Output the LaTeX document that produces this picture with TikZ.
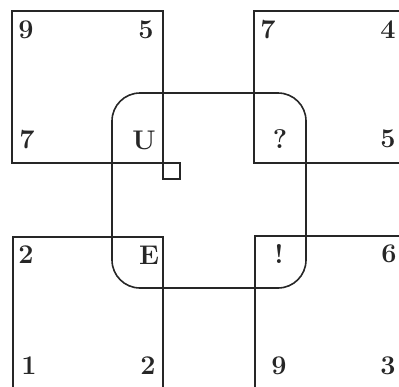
\documentclass[tikz,border=0pt]{standalone}
\begin{document}
\begin{tikzpicture}[
  x=1pt, y=-1pt,
  box/.style={draw=black!85, line width=1.6pt},
  loop/.style={box, rounded corners=28pt},
  num/.style={font=\fontsize{27}{32}\selectfont\bfseries, text=black!85, inner sep=0pt}
]
  \useasboundingbox (0,0) rectangle (399,386);
  \clip (0,0) rectangle (399,386);

  \draw[box] (12,11) rectangle (163,163);
  \draw[box] (254,11) rectangle (420,163);
  \draw[box] (13,237) rectangle (163,400);
  \draw[box] (255,236) rectangle (420,400);
  \draw[loop] (112,93) rectangle (306,288);
  \draw[box] (163,163) rectangle (180,179);

  \node[num] (tlA) at (26,30) {9};
  \node[num] (tlB) at (146,30) {5};
  \node[num] (tlC) at (27,140) {7};
  \node[num] (tlD) at (144,140) {U};

  \node[num] (trA) at (268,30) {7};
  \node[num] (trB) at (388,30) {4};
  \node[num] (trC) at (280,139) {?};
  \node[num] (trD) at (388,139) {5};

  \node[num] (blA) at (26,255) {2};
  \node[num] (blB) at (149,255) {E};
  \node[num] (blC) at (29,366) {1};
  \node[num] (blD) at (148,366) {2};

  \node[num] (brA) at (279,254) {!};
  \node[num] (brB) at (389,254) {6};
  \node[num] (brC) at (279,366) {9};
  \node[num] (brD) at (388,366) {3};
\end{tikzpicture}
\end{document}
